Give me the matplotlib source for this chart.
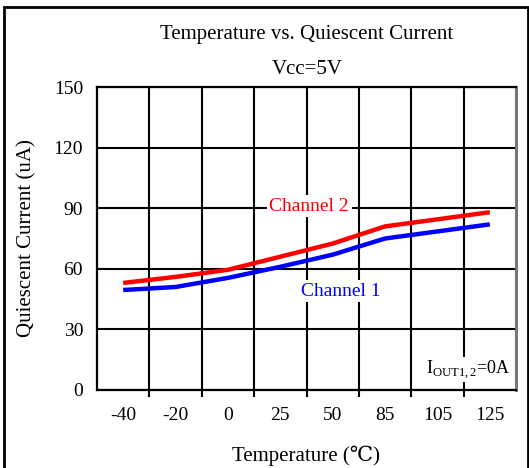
import matplotlib
matplotlib.use("Agg")
import matplotlib.pyplot as plt
from matplotlib.patches import Rectangle

plt.rcParams['font.family'] = ['Liberation Serif', 'DejaVu Serif', 'DejaVu Sans']

temps = ["-40", "-20", "0", "25", "50", "85", "105", "125"]
ch2 = [53, 56, 59.5, 66, 72.5, 81, 84.5, 88]
ch1 = [49.5, 51, 55.5, 61, 67, 75, 78.5, 82]
yticks = [0, 30, 60, 90, 120, 150]

fig = plt.figure(figsize=(5.29, 4.68), dpi=100)
ax = fig.add_axes([97 / 529, 1 - 390 / 468, 419 / 529, 303 / 468])

x = list(range(len(temps)))
ax.plot(x, ch2, color="#ff0000", lw=3.2, solid_capstyle="butt", zorder=3)
ax.plot(x, ch1, color="#0000ff", lw=3.2, solid_capstyle="butt", zorder=3)

ax.set_xlim(-0.5, len(temps) - 0.5)
ax.set_ylim(0, 150)

# grid lines sit between categories, labels in the middle of each cell
ax.set_xticks([i + 0.5 for i in range(len(temps) - 1)])
ax.set_xticklabels([])
ax.set_xticks(x, minor=True)
ax.set_xticklabels(temps, minor=True, fontsize=14)
ax.tick_params(axis="x", which="major", length=5, width=1.5, direction="out")
ax.tick_params(axis="x", which="minor", length=0, pad=12)
ax.set_yticks(yticks)
ax.set_yticklabels([str(v) for v in yticks], fontsize=14)
ax.tick_params(axis="y", length=0, pad=10)
ax.grid(True, which="major", color="black", lw=1.5)
for s in ax.spines.values():
    s.set_linewidth(1.6)
ax.spines["right"].set_color("#777777")
ax.spines["right"].set_linewidth(2.2)

ax.set_ylabel("Quiescent Current (uA)", fontsize=15, labelpad=12)
ax.set_xlabel("Temperature (℃)", fontsize=15, labelpad=16)

fig.text(307 / 529, 1 - 34 / 468, "Temperature vs. Quiescent Current",
         ha="center", va="center", fontsize=15)
fig.text(307 / 529, 1 - 70 / 468, "Vcc=5V", ha="center", va="center", fontsize=15)

ax.text(3.55, 91, "Channel 2", color="#ff0000", fontsize=14, ha="center", va="center",
        family="Liberation Serif",
        bbox=dict(facecolor="white", edgecolor="none", pad=2), zorder=4)
ax.text(4.15, 49, "Channel 1", color="#0000ff", fontsize=14, ha="center", va="center",
        family="Liberation Serif",
        bbox=dict(facecolor="white", edgecolor="none", pad=2), zorder=4)
ax.text(7.4, 10, r"I$_{\mathregular{OUT1,2}}$=0A", fontsize=13, ha="right", va="center",
        bbox=dict(facecolor="white", edgecolor="none", pad=1), zorder=4)

fig.patches.append(Rectangle((4 / 529, -0.05), 524 / 529, 1 - 7 / 468 + 0.05,
                             transform=fig.transFigure, fill=False, edgecolor="black", lw=2))

fig.savefig("out.png", dpi=100)
